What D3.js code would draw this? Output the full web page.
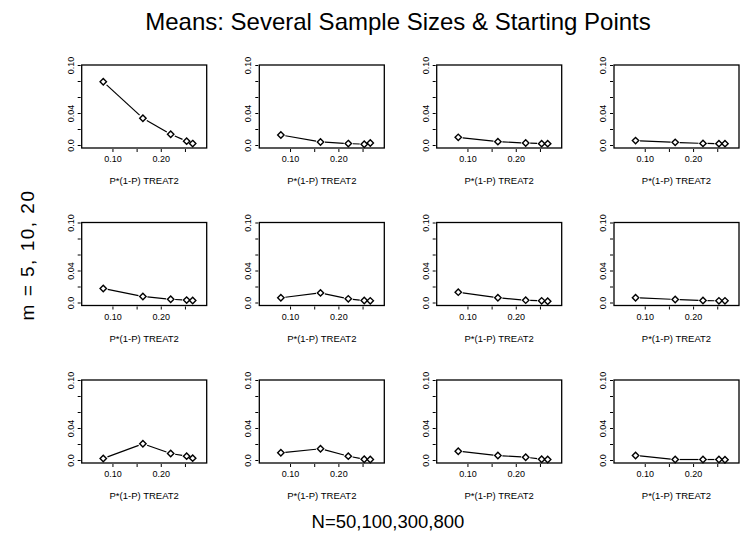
<!DOCTYPE html>
<html lang="en">
<head>
    <meta charset="UTF-8">
    <title>Means</title>
    <script src="https://d3js.org/d3.v7.min.js"></script>
    <style>
        body { margin: 0; background: #fff; }
        svg { font-family: "Liberation Sans", Arial, sans-serif; }
    </style>
</head>
<body>
<svg id="chart" width="743" height="536"></svg>
<script>
    // x positions of the five points, read in axis units
    const pq = [0.081, 0.163, 0.2205, 0.2535, 0.266];

    // one array per N = 50, 100, 300, 800
    const means_m5 = [
        [0.079, 0.0335, 0.0135, 0.0048, 0.0018],
        [0.0125, 0.0038, 0.0018, 0.0010, 0.0025],
        [0.0096, 0.0042, 0.0025, 0.0017, 0.0017],
        [0.0055, 0.0033, 0.0020, 0.0017, 0.0017]
    ];
    const means_m10 = [
        [0.0175, 0.0075, 0.0040, 0.0030, 0.0025],
        [0.0059, 0.0120, 0.0046, 0.0025, 0.0021],
        [0.0129, 0.0059, 0.0029, 0.0021, 0.0016],
        [0.0059, 0.0038, 0.0025, 0.0021, 0.0021]
    ];
    const means_m20 = [
        [0.0019, 0.0203, 0.0081, 0.0048, 0.0023],
        [0.0090, 0.0140, 0.0048, 0.0010, 0.0006],
        [0.0110, 0.0056, 0.0035, 0.0010, 0.0006],
        [0.0056, 0.0006, 0.0006, 0.0006, 0.0003]
    ];
    const allMeans = [means_m5, means_m10, means_m20];

    const xTicks = [0.10, 0.15, 0.20, 0.25];
    const xTickLabels = ["0.10", "", "0.20", ""];
    const yTicks = [0, 0.02, 0.04, 0.06, 0.08, 0.10];
    const yTickLabels = ["0.0", "", "0.04", "", "", "0.10"];

    const title = "Means: Several Sample Sizes & Starting Points";
    const xTitle = "N=50,100,300,800";
    const yTitle = "m = 5, 10, 20";
    const panelXLabel = "P*(1-P) TREAT2";

    const svg = d3.select("#chart");

    const boxW = 125, boxH = 83;
    const colLeft = [81.7, 259.3, 436.7, 614];
    const rowTop = [65, 222.5, 380];

    const x = d3.scaleLinear().domain([0.0364, 0.295]).range([0, boxW]);
    const y = d3.scaleLinear().domain([-0.00375, 0.10]).range([boxH, 0]);

    svg.append("text")
        .attr("x", 398).attr("y", 30)
        .attr("text-anchor", "middle")
        .style("font-size", "24px")
        .text(title);

    svg.append("text")
        .attr("x", 388).attr("y", 528)
        .attr("text-anchor", "middle")
        .style("font-size", "18.5px")
        .text(xTitle);

    svg.append("text")
        .attr("transform", "translate(34,255) rotate(-90)")
        .attr("text-anchor", "middle")
        .style("font-size", "19px")
        .style("letter-spacing", "1.5px")
        .text(yTitle);

    const diamond = d3.symbol().type(d3.symbolDiamond2).size(26);

    allMeans.forEach(function (rowData, r) {
        rowData.forEach(function (vals, c) {
            const g = svg.append("g")
                .attr("transform", "translate(" + colLeft[c] + "," + rowTop[r] + ")");

            // y axis
            const yAxis = d3.axisLeft(y).tickValues(yTicks).tickSize(3)
                .tickFormat(function (d, i) { return yTickLabels[i]; });
            const ya = g.append("g").attr("transform", "translate(-1,0)").call(yAxis);
            ya.select(".domain").remove();
            ya.selectAll("text")
                .attr("transform", "rotate(-90)")
                .attr("x", 0).attr("y", -7)
                .attr("dy", 0)
                .attr("text-anchor", "middle")
                .style("font-size", "9px");

            // x axis
            const xAxis = d3.axisBottom(x).tickValues(xTicks).tickSize(3)
                .tickFormat(function (d, i) { return xTickLabels[i]; });
            const xa = g.append("g").attr("transform", "translate(0," + (boxH + 1) + ")").call(xAxis);
            xa.select(".domain").remove();
            xa.selectAll("text").attr("y", 7).style("font-size", "9px");

            g.selectAll(".tick text").attr("fill", "#000");
            g.selectAll(".tick line").attr("stroke", "#000");

            g.append("rect")
                .attr("width", boxW).attr("height", boxH)
                .attr("fill", "none").attr("stroke", "#000").attr("stroke-width", 1.3);

            g.append("text")
                .attr("x", boxW / 2).attr("y", boxH + 36)
                .attr("text-anchor", "middle")
                .style("font-size", "9.5px")
                .text(panelXLabel);

            // line segments with gaps around points (like type="b")
            const pts = vals.map(function (v, i) { return [x(pq[i]), y(v)]; });
            const gap = 4.5;
            for (let i = 0; i < pts.length - 1; i++) {
                const dx = pts[i + 1][0] - pts[i][0];
                const dy = pts[i + 1][1] - pts[i][1];
                const len = Math.sqrt(dx * dx + dy * dy);
                if (len <= 2 * gap) continue;
                const ux = dx / len, uy = dy / len;
                g.append("line")
                    .attr("x1", pts[i][0] + ux * gap).attr("y1", pts[i][1] + uy * gap)
                    .attr("x2", pts[i + 1][0] - ux * gap).attr("y2", pts[i + 1][1] - uy * gap)
                    .attr("stroke", "#000").attr("stroke-width", 1.2);
            }

            g.selectAll(".pt")
                .data(pts)
                .enter().append("path")
                .attr("class", "pt")
                .attr("d", diamond)
                .attr("transform", function (d) { return "translate(" + d[0] + "," + d[1] + ")"; })
                .attr("fill", "#fff").attr("stroke", "#000").attr("stroke-width", 1.4);
        });
    });
</script>
</body>
</html>
